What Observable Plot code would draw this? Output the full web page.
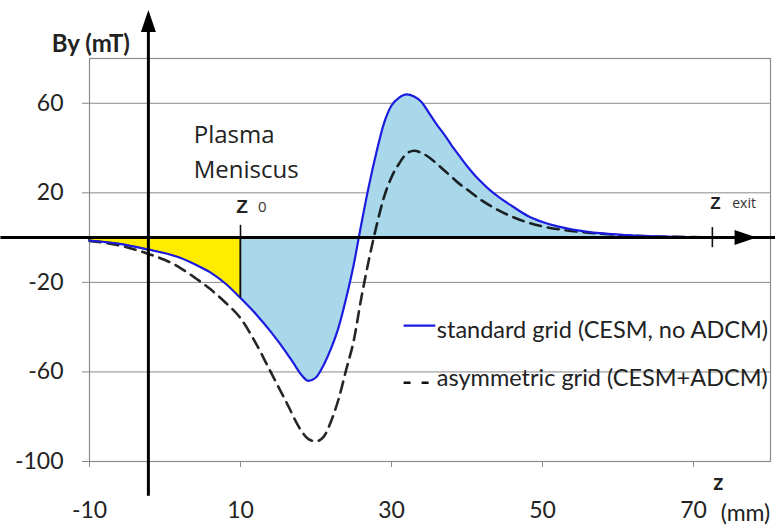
<!DOCTYPE html>
<html>
<head>
<meta charset="utf-8">
<script src="https://cdn.jsdelivr.net/npm/d3@7"></script>
<script src="https://cdn.jsdelivr.net/npm/@observablehq/plot@0.6"></script>
<style>
  html, body { margin: 0; padding: 0; background: #fff; }
  #chart { width: 775px; height: 526px; }
</style>
</head>
<body>
<div id="chart"></div>
<script>
// z positions (mm) and By values (mT)
const zStd = [-10,-6,-2,0,2,4,6,8,10,12,14,16,17,18,19,20,21,22,23,24,25,26,27,28,29,30,31,32,33,34,35,36,37,38,39,40,41,42,43,44,46,48,50,52,54,56,60,64,70,75,80];
const byStd = [-1.3,-2.8,-5.5,-7,-9,-12,-15.5,-20.5,-27,-34,-42,-51,-56,-61,-64,-62.5,-57,-49.5,-40,-27,-12,6,23,38,51,59,62.5,64,63,60.5,55.5,50.5,46,41,36.5,32,28,24.5,21.3,18.6,14,9.8,7,5,3.6,2.6,1.4,0.7,0.25,0.1,0];

const zAsym = [-10,-6,-2,0,2,4,6,8,10,12,14,16,18,19,20,21,22,23,24,25,26,27,28,29,30,31,32,33,34,35,36,37,38,39,40,42,44,46,48,50,53,56,60,64,70,75,80];
const byAsym = [-1.5,-3.5,-7.5,-10,-13.5,-18,-23,-29,-36,-47,-60,-73,-86,-90,-91,-89,-82,-72,-59,-46,-27,-10,5,18,27,33,37.5,38.8,37.8,35.8,33,30,27,24,21.5,16.5,12.5,9.3,6.8,5,3.3,2.2,1.2,0.6,0.2,0.1,0];

const xTicks = [-10, 10, 30, 50, 70];
const yTicks = [-100, -60, -20, 20, 60];
const seriesNames = ["standard grid (CESM, no ADCM)", "asymmetric grid (CESM+ADCM)"];
const z0 = 10;
const zExit = 72.5;
const zAxis = -2.2;

const std = zStd.map((z, i) => ({z, by: byStd[i]}));
const asym = zAsym.map((z, i) => ({z, by: byAsym[i]}));

const FONT = "Lato, 'Open Sans', sans-serif";
const BLUE = "#1c1ce0";

// narrow filled arrowhead symbol
const arrowHead = {
  draw(ctx) {
    ctx.moveTo(0, -11);
    ctx.lineTo(7.5, 11);
    ctx.lineTo(-7.5, 11);
    ctx.closePath();
  }
};

const byAt = (z) => std.find(d => d.z === z).by;
const fmt = (d) => String(d);

const chart = Plot.plot({
  width: 775,
  height: 526,
  marginLeft: 89,
  marginRight: 5,
  marginTop: 58,
  marginBottom: 65,
  style: {fontFamily: FONT, fontSize: "23px", color: "#222", background: "#fff"},
  x: {domain: [-10, 80.2]},
  y: {domain: [-100, 80]},
  marks: [
    Plot.gridY(yTicks, {stroke: "#8a8a8a", strokeOpacity: 1, strokeWidth: 1}),
    Plot.frame({stroke: "#8a8a8a", strokeWidth: 1.2}),
    Plot.axisY({ticks: yTicks, tickFormat: fmt, tickSize: 7, tickPadding: 19, stroke: "#8a8a8a", fill: "#222", label: null, fontSize: 23}),
    Plot.axisX({ticks: xTicks, tickFormat: fmt, tickSize: 6, tickPadding: 34, stroke: "#8a8a8a", fill: "#222", label: null, fontSize: 23}),
    // fills between standard curve and zero
    Plot.areaY(std.filter(d => d.z <= z0), {x: "z", y1: 0, y2: "by", fill: "#ffec00", stroke: "#2a2a10", strokeWidth: 1, curve: "monotone-x"}),
    Plot.areaY(std.filter(d => d.z >= z0), {x: "z", y1: 0, y2: "by", fill: "#a9d8ea", curve: "monotone-x"}),
    // curves
    Plot.line(asym, {x: "z", y: "by", stroke: "#000", strokeOpacity: 0.85, strokeWidth: 2.6, strokeDasharray: "11,7", curve: "monotone-x"}),
    Plot.line(std, {x: "z", y: "by", stroke: BLUE, strokeWidth: 2.2, curve: "monotone-x"}),
    // z0 and z exit markers
    Plot.ruleX([z0], {y1: 5.5, y2: byAt(z0), stroke: "#111", strokeWidth: 1.6}),
    Plot.ruleX([zExit], {y1: 4.5, y2: -4.5, stroke: "#111", strokeWidth: 1.6}),
    // axis arrows
    Plot.link([0], {x1: -21.8, x2: 80.9, y1: 0, y2: 0, stroke: "#000", strokeWidth: 3}),
    Plot.link([0], {x1: zAxis, x2: zAxis, y1: -115.3, y2: 94, stroke: "#000", strokeWidth: 3}),
    Plot.dot([0], {x: zAxis, y: 96.8, symbol: arrowHead, fill: "#000", stroke: null}),
    Plot.dot([0], {x: 76.9, y: 0, symbol: arrowHead, fill: "#000", stroke: null, rotate: 90}),
    // annotations
    Plot.text(["By (mT)"], {x: -15.0, y: 86.5, textAnchor: "start", fontWeight: "bold", fontSize: 24, fill: "#222"}),
    Plot.text(["Plasma"], {x: 3.8, y: 45.6, textAnchor: "start", fontSize: 24, fontFamily: "'Open Sans', sans-serif", fill: "#222"}),
    Plot.text(["Meniscus"], {x: 3.8, y: 30, textAnchor: "start", fontSize: 24, fontFamily: "'Open Sans', sans-serif", fill: "#222"}),
    Plot.text(["Z"], {x: 10.2, y: 13.8, fontWeight: "bold", fontSize: 19, fontFamily: "'Liberation Sans', sans-serif", fill: "#222"}),
    Plot.text(["0"], {x: 12.9, y: 13.4, fontSize: 15, fontFamily: "'Open Sans', sans-serif", fill: "#333"}),
    Plot.text(["Z"], {x: 72.9, y: 15.2, fontWeight: "bold", fontSize: 17, fontFamily: "'Liberation Sans', sans-serif", fill: "#222"}),
    Plot.text(["exit"], {x: 76.7, y: 15.2, fontSize: 14, fontFamily: "'Open Sans', sans-serif", fill: "#333"}),
    Plot.text(["z"], {x: 73.3, y: -109.4, fontWeight: "bold", fontSize: 22, fill: "#222"}),
    Plot.text(["(mm)"], {x: 73.6, y: -123.3, textAnchor: "start", fontSize: 23, fill: "#222"}),
    // legend
    Plot.link([0], {x1: 31.6, x2: 35.8, y1: -39.3, y2: -39.3, stroke: BLUE, strokeWidth: 2.4}),
    Plot.link([0], {x1: 31.6, x2: 35.8, y1: -64.8, y2: -64.8, stroke: "#111", strokeWidth: 2.4, strokeDasharray: "7,11"}),
    Plot.text([seriesNames[0]], {x: 36.0, y: -41.5, textAnchor: "start", fontSize: 23.5, fill: "#222"}),
    Plot.text([seriesNames[1]], {x: 36.0, y: -63, textAnchor: "start", fontSize: 23.5, fill: "#222"})
  ]
});

document.getElementById("chart").appendChild(chart);
</script>
</body>
</html>
